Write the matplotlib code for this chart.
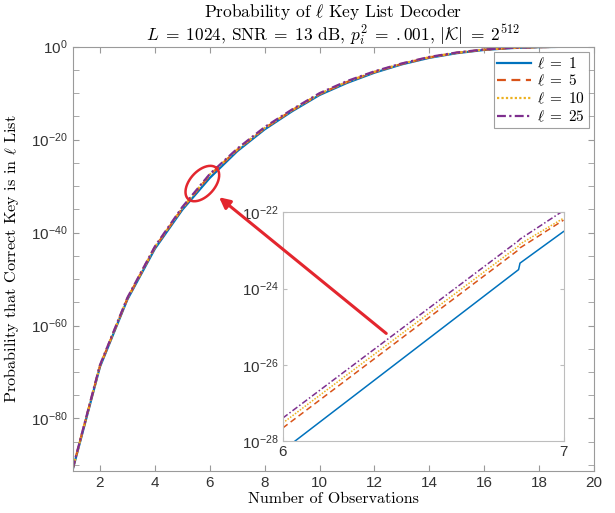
import numpy as np
import matplotlib
matplotlib.use("Agg")
import matplotlib.pyplot as plt
from matplotlib.ticker import FixedLocator, FuncFormatter, NullFormatter

# log10 of probability
obs = np.arange(1, 21)
logp_l1 = [-91.2, -68.9, -54.4, -43.5, -35.1, -28.25, -22.5, -17.8, -13.9, -10.4,
           -7.8, -5.6, -3.8, -2.4, -1.4, -0.7, -0.3, -0.1, -0.02, 0.0]
logp_l5 = [-91.0, -68.7, -54.2, -43.2, -34.8, -27.66, -22.2, -17.55, -13.7, -10.2,
           -7.6, -5.45, -3.7, -2.3, -1.32, -0.65, -0.27, -0.09, -0.015, 0.0]
logp_l10 = [-91.0, -68.6, -54.1, -43.1, -34.7, -27.53, -22.15, -17.5, -13.65, -10.15,
            -7.55, -5.4, -3.65, -2.27, -1.3, -0.63, -0.26, -0.085, -0.012, 0.0]
logp_l25 = [-90.9, -68.5, -54.0, -43.0, -34.5, -27.4, -21.95, -17.3, -13.5, -10.0,
            -7.4, -5.3, -3.6, -2.2, -1.25, -0.6, -0.25, -0.08, -0.01, 0.0]

# zoomed region 6..7
inset_obs = [6.0, 6.84, 6.845, 7.0]
inset_l1 = [-28.25, -23.50, -23.33, -22.50]
inset_l5 = [-27.66, -22.98, -22.93, -22.20]
inset_l10 = [-27.53, -22.88, -22.83, -22.15]
inset_l25 = [-27.40, -22.74, -22.70, -21.95]

labels = [r"$\ell\;=\;1$", r"$\ell\;=\;5$", r"$\ell\;=\;10$", r"$\ell\;=\;25$"]
colors = ["#0072BD", "#D95319", "#EDB120", "#7E2F8E"]
styles = ["-", (0, (4, 2.5)), (0, (1, 1)), (0, (4, 1.5, 1, 1.5))]

plt.rcParams["font.family"] = ["Liberation Sans", "DejaVu Sans"]
plt.rcParams["mathtext.fontset"] = "cm"
plt.rcParams["axes.unicode_minus"] = True

fig = plt.figure(figsize=(6.15, 5.13), dpi=100)
ax = fig.add_axes([0.1179, 0.0819, 0.8480, 0.8271])

main_series = [logp_l1, logp_l5, logp_l10, logp_l25]
for vals, lab, c, ls in zip(main_series, labels, colors, styles):
    ax.plot(obs, 10.0 ** np.array(vals), color=c, ls=ls, lw=1.6, label=lab)

ax.set_yscale("log")
ax.set_xlim(1, 20)
ax.set_ylim(10 ** -91.3, 1)

def pow_fmt(v, pos):
    return r"$\mathregular{10^{%d}}$" % round(np.log10(v))

ax.yaxis.set_major_locator(FixedLocator([10.0 ** k for k in range(-80, 1, 20)]))
ax.yaxis.set_minor_locator(FixedLocator([10.0 ** k for k in range(-90, 1, 5) if k % 20]))
ax.yaxis.set_major_formatter(FuncFormatter(pow_fmt))
ax.yaxis.set_minor_formatter(NullFormatter())
ax.set_xticks(range(2, 21, 2))
ax.xaxis.set_minor_locator(FixedLocator([]))

frame = "#9a9a9a"
for sp in ax.spines.values():
    sp.set_color(frame)
    sp.set_linewidth(0.8)
ax.tick_params(which="both", direction="in", top=True, right=True, length=4,
               color=frame, labelsize=11, labelcolor="#333333")

ax.set_xlabel("Number of Observations", family="cmr10", fontsize=11.5, labelpad=2)
ax.set_ylabel(r"Probability that Correct Key is in $\ell$ List", family="cmr10",
              fontsize=11.7, labelpad=7)
ax.set_title("Probability of $\\ell$ Key List Decoder\n"
             r"$L\;=\;1024$, $\mathrm{SNR}\;=\;13$ dB, $p_i^2\;=\;.001$, "
             r"$|\mathcal{K}|\;=\;2^{512}$",
             family="cmr10", fontsize=12.5, pad=4, linespacing=1.0)

leg = ax.legend(loc="upper right", fontsize=11, frameon=True, fancybox=False,
                handlelength=2.2, labelspacing=0.15, borderpad=0.25,
                bbox_to_anchor=(0.99, 0.988), borderaxespad=0, handletextpad=0.4)
leg.get_frame().set_edgecolor("#888888")
leg.get_frame().set_linewidth(0.8)

# red ellipse around the zoomed region
red = "#E3262E"
ell_center = (5.73, 10 ** -29.45)
ell_a, ell_b, ell_ang = 21, 12.5, np.deg2rad(48)
c = ax.transData.transform(ell_center)
t = np.linspace(0, 2 * np.pi, 200)
ex = c[0] + ell_a * np.cos(t) * np.cos(ell_ang) - ell_b * np.sin(t) * np.sin(ell_ang)
ey = c[1] + ell_a * np.cos(t) * np.sin(ell_ang) + ell_b * np.sin(t) * np.cos(ell_ang)
ed = ax.transData.inverted().transform(np.column_stack([ex, ey]))
ax.plot(ed[:, 0], ed[:, 1], color=red, lw=1.8, zorder=5)

# inset
axin = fig.add_axes([0.4597, 0.1404, 0.4566, 0.4454])
inset_series = [inset_l1, inset_l5, inset_l10, inset_l25]
for vals, c_, ls in zip(inset_series, colors, styles):
    axin.plot(inset_obs, 10.0 ** np.array(vals), color=c_, ls=ls, lw=1.1)
axin.set_yscale("log")
axin.set_xlim(6, 7)
axin.set_ylim(1e-28, 1e-22)
axin.yaxis.set_major_locator(FixedLocator([1e-28, 1e-26, 1e-24, 1e-22]))
axin.yaxis.set_minor_locator(FixedLocator([]))
axin.yaxis.set_major_formatter(FuncFormatter(pow_fmt))
axin.set_xticks([6, 7])
axin.xaxis.set_minor_locator(FixedLocator([]))
for sp in axin.spines.values():
    sp.set_color("#bdbdbd")
    sp.set_linewidth(0.8)
axin.tick_params(which="both", direction="in", top=True, right=True, length=3,
                 color="#bdbdbd", labelsize=11, labelcolor="#333333", pad=3)

# arrow from the inset to the ellipse
arrow_head = (6.34, 10 ** -32.4)
arrow_tail = (12.43, 10 ** -61.7)
axin.annotate("", xy=arrow_head, xycoords=ax.transData,
              xytext=arrow_tail, textcoords=ax.transData,
              arrowprops=dict(arrowstyle="-|>", color=red, lw=2.2,
                              mutation_scale=16, shrinkA=0, shrinkB=0),
              annotation_clip=False)

fig.savefig("out.png", dpi=100)
